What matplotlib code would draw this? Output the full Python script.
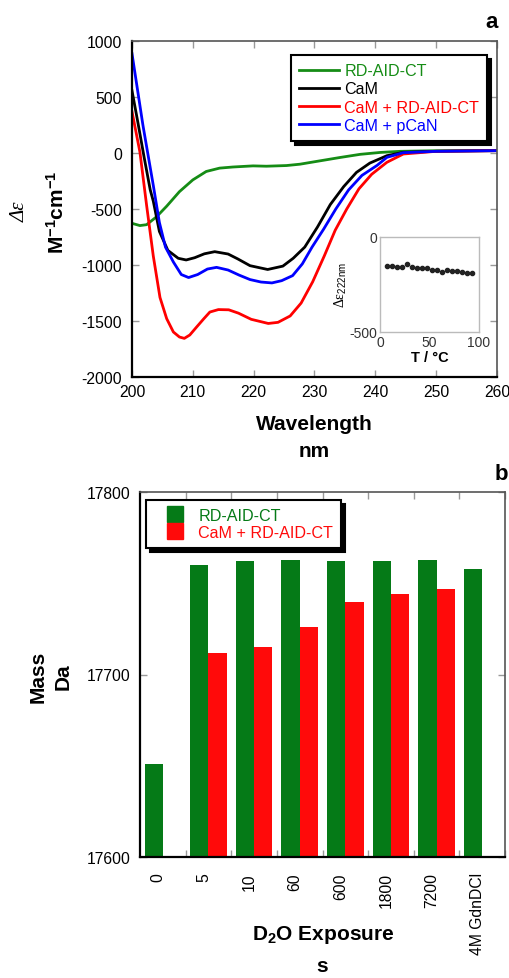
import numpy as np
import matplotlib
matplotlib.use('Agg')
import matplotlib.pyplot as plt
from matplotlib.lines import Line2D

plt.rcParams['font.family'] = ['Liberation Sans', 'DejaVu Sans']
plt.rcParams['axes.unicode_minus'] = False
plt.rcParams['mathtext.fontset'] = 'custom'
plt.rcParams['mathtext.rm'] = 'Liberation Sans'
plt.rcParams['mathtext.bf'] = 'Liberation Sans:bold'
plt.rcParams['mathtext.it'] = 'Liberation Sans:italic'

# ---- panel a: CD spectra ----
wl_rd = [200, 201.3, 202.4, 204.0, 205.7, 207.8, 210.0, 212.2, 214.4, 216.6, 219.9,
         222.1, 225.4, 227.6, 230.9, 234.2, 237.5, 240.8, 244.1, 249.6, 260]
de_rd = [-628, -648, -640, -571, -475, -345, -240, -165, -135, -125, -115,
         -118, -112, -100, -70, -40, -12, 5, 15, 20, 22]

wl_cam = [200, 201, 202, 203, 203.5, 204.5, 205.9, 207.6, 208.9, 210.3, 211.9, 213.6,
          215.8, 217.4, 219.4, 222.3, 224.8, 226.5, 228.4, 230.5, 232.6, 234.8, 236.9,
          239.1, 241.9, 244.6, 250, 260]
de_cam = [556, 263, -40, -330, -430, -700, -870, -940, -955, -935, -900, -881,
          -902, -946, -1006, -1040, -1010, -940, -840, -660, -460, -300, -173,
          -90, -24, 6, 15, 21]

wl_cam_rd = [200, 201.3, 202.4, 203.5, 204.6, 205.7, 206.8, 207.8, 208.6, 209.5, 210.6,
             211.8, 212.8, 214.2, 215.9, 217.5, 219.6, 222.4, 224.0, 226.0, 227.8, 229.7,
             231.6, 233.4, 235.3, 237.3, 239.4, 241.9, 244.6, 250, 260]
de_cam_rd = [370, 9, -467, -920, -1290, -1479, -1598, -1643, -1655, -1625, -1555,
             -1480, -1420, -1398, -1400, -1430, -1485, -1522, -1512, -1455, -1340, -1150,
             -920, -690, -500, -320, -190, -83, -9, 15, 21]

wl_cam_pcan = [200, 201.8, 203.5, 204.5, 205.5, 206.8, 208.1, 209.3, 210.8, 212.4, 213.9,
               215.8, 217.6, 219.4, 221.2, 223.0, 224.6, 226.4, 228.0, 229.6, 231.5, 233.5,
               235.6, 237.8, 240.3, 241.9, 244.6, 250, 260]
de_cam_pcan = [887, 247, -289, -620, -840, -973, -1085, -1112, -1085, -1036, -1021,
               -1045, -1090, -1130, -1152, -1160, -1140, -1095, -990, -840, -680, -500,
               -330, -200, -110, -39, 3, 15, 21]

# inset: thermal melt at 222 nm
temp = [6.7, 11.7, 16.8, 21.8, 26.9, 31.9, 37.0, 42.0, 47.1, 52.1, 57.2, 62.2,
        67.3, 72.3, 77.4, 82.4, 87.5, 92.6]
de_222 = [-151, -154, -156, -156, -144, -156, -163, -165, -165, -172, -174, -183,
          -172, -177, -181, -186, -189, -191]

# ---- panel b: mass after D2O exposure ----
exposure = ['0', '5', '10', '60', '600', '1800', '7200', '4M GdnDCl']
mass_rd = [17651, 17760, 17762, 17763, 17762, 17762, 17763, 17758]
mass_cam_rd = [np.nan, 17712, 17715, 17726, 17740, 17744, 17747, np.nan]

W, H = 510, 979
fig = plt.figure(figsize=(W / 100, H / 100), dpi=100)


def box(l, t, r, b):
    return [l / W, 1 - b / H, (r - l) / W, (b - t) / H]


def style_axes(ax):
    for s in ['left', 'bottom']:
        ax.spines[s].set_linewidth(1.6)
        ax.spines[s].set_color('black')
    for s in ['top', 'right']:
        ax.spines[s].set_linewidth(1.2)
        ax.spines[s].set_color('#555555')
    ax.tick_params(which='both', direction='in', top=True, right=True,
                   color='#999999', labelsize=11.3)


def shadow_legend(leg, colors):
    leg.get_frame().set_edgecolor('black')
    leg.get_frame().set_linewidth(1.5)
    for txt, col in zip(leg.get_texts(), colors):
        txt.set_color(col)


# ===== panel a =====
ax1 = fig.add_axes(box(132, 42, 497, 378))
c_green, c_red, c_blue = '#158c15', '#ff0000', '#0000ff'
ax1.plot(wl_rd, de_rd, color=c_green, lw=2, label='RD-AID-CT')
ax1.plot(wl_cam, de_cam, color='black', lw=2, label='CaM')
ax1.plot(wl_cam_rd, de_cam_rd, color=c_red, lw=2, label='CaM + RD-AID-CT')
ax1.plot(wl_cam_pcan, de_cam_pcan, color=c_blue, lw=2, label='CaM + pCaN')
ax1.set_xlim(200, 260)
ax1.set_ylim(-2000, 1000)
ax1.set_xticks(np.arange(200, 261, 10))
ax1.set_yticks(np.arange(-2000, 1001, 500))
style_axes(ax1)
ax1.tick_params(axis='both', length=5, width=1)
ax1.tick_params(axis='y', pad=7)
ax1.tick_params(axis='x', pad=5)

leg = ax1.legend(loc='upper right', bbox_to_anchor=(0.973, 0.958), fontsize=11.6,
                 handlelength=2.5, handletextpad=0.3, labelspacing=0.2,
                 borderpad=0.5, borderaxespad=0, fancybox=False,
                 shadow={'ox': 3, 'oy': -3, 'color': 'black', 'alpha': 1})
shadow_legend(leg, [c_green, 'black', c_red, c_blue])

# inset
axi = fig.add_axes(box(380, 238, 479, 333))
axi.plot(temp, de_222, 'o', color='#222222', ms=3)
axi.set_xlim(0, 100)
axi.set_ylim(-500, 0)
axi.set_xticks([0, 50, 100])
axi.set_yticks([-500, 0])
for s in axi.spines.values():
    s.set_color('#bbbbbb')
    s.set_linewidth(1)
axi.tick_params(length=0, labelsize=10, colors='#333333', pad=2)
axi.set_xlabel('T / °C', fontsize=10.5, fontweight='bold', labelpad=1)
axi.set_ylabel('Δε$_{\\mathrm{222nm}}$', fontsize=10, family=['Liberation Serif'],
               labelpad=0)

fig.text(20 / W, 1 - 212 / H, 'Δε', rotation=90, ha='center', va='center',
         fontsize=15, family=['Liberation Serif'], style='italic')
fig.text(57 / W, 1 - 212 / H, r'M$^{\mathbf{-1}}$cm$^{\mathbf{-1}}$', rotation=90,
         ha='center', va='center', fontsize=15, fontweight='bold')
fig.text(314 / W, 1 - 425 / H, 'Wavelength', ha='center', va='center',
         fontsize=15, fontweight='bold')
fig.text(314 / W, 1 - 452 / H, 'nm', ha='center', va='center',
         fontsize=15, fontweight='bold')
fig.text(492 / W, 1 - 23 / H, 'a', ha='center', va='center', fontsize=16,
         fontweight='bold')

# ===== panel b =====
ax2 = fig.add_axes(box(140, 493, 505, 858))
c_bar_g, c_bar_r = '#057a17', '#ff0a0a'
idx = np.arange(len(exposure))
ax2.bar(idx + 0.1, np.array(mass_rd) - 17600, 0.4, bottom=17600, align='edge',
        color=c_bar_g, label='RD-AID-CT')
ax2.bar(idx + 0.5, np.array(mass_cam_rd) - 17600, 0.4, bottom=17600, align='edge',
        color=c_bar_r, label='CaM + RD-AID-CT')
ax2.set_xlim(0, 8)
ax2.set_ylim(17600, 17800)
ax2.set_yticks([17600, 17700, 17800])
ax2.set_xticks(idx + 0.4)
ax2.set_xticklabels(exposure, rotation=90, va='top', ha='center')
ax2.set_xticks(np.arange(1, 9), minor=True)
style_axes(ax2)
ax2.tick_params(axis='x', which='major', length=0, pad=11)
ax2.tick_params(axis='x', which='minor', length=5, width=1)
ax2.tick_params(axis='y', length=5, width=1, pad=7)

hnd = [Line2D([], [], ls='none', marker='s', ms=11, color=c_bar_g),
       Line2D([], [], ls='none', marker='s', ms=11, color=c_bar_r)]
leg2 = ax2.legend(hnd, ['RD-AID-CT', 'CaM + RD-AID-CT'], loc='upper left',
                  bbox_to_anchor=(0.016, 0.979), fontsize=11.6, handlelength=2.6,
                  handletextpad=0.15, labelspacing=0.15, borderpad=0.5,
                  borderaxespad=0, fancybox=False,
                  shadow={'ox': 3, 'oy': -3, 'color': 'black', 'alpha': 1})
shadow_legend(leg2, [c_bar_g, c_bar_r])

fig.text(38 / W, 1 - 677 / H, 'Mass', rotation=90, ha='center', va='center',
         fontsize=15, fontweight='bold')
fig.text(63 / W, 1 - 677 / H, 'Da', rotation=90, ha='center', va='center',
         fontsize=15, fontweight='bold')
fig.text(323 / W, 1 - 935 / H, r'D$_{\mathbf{2}}$O Exposure', ha='center',
         va='center', fontsize=15, fontweight='bold')
fig.text(322 / W, 1 - 967 / H, 's', ha='center', va='center', fontsize=15,
         fontweight='bold')
fig.text(501 / W, 1 - 475 / H, 'b', ha='center', va='center', fontsize=16,
         fontweight='bold')

fig.savefig('out.png', dpi=100)
